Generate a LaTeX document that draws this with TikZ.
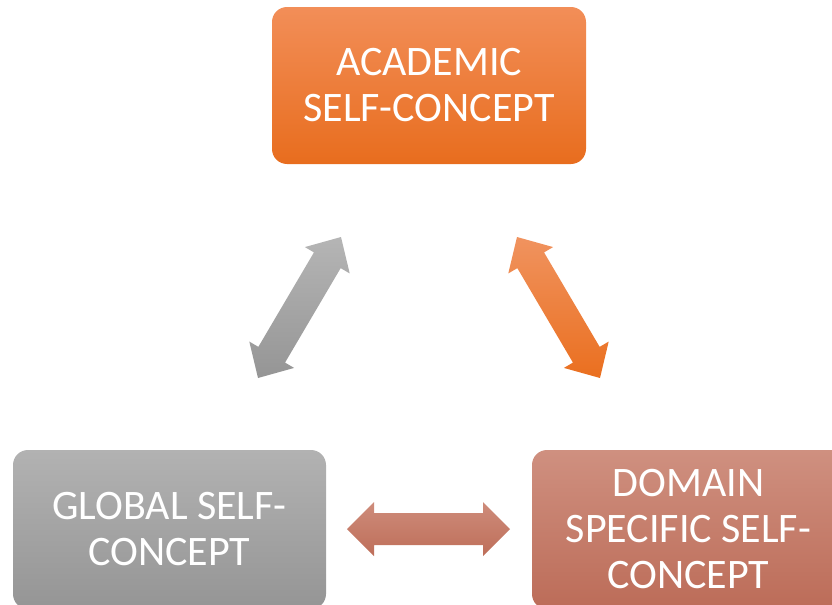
\documentclass[tikz,border=0pt]{standalone}
\usepackage{fontspec}
\setmainfont{Carlito}
\usetikzlibrary{calc}
\definecolor{acadtop}{HTML}{F28E58}
\definecolor{acadbot}{HTML}{E86D1E}
\definecolor{globtop}{HTML}{B2B2B2}
\definecolor{globbot}{HTML}{959595}
\definecolor{domtop}{HTML}{CF9080}
\definecolor{dombot}{HTML}{BC6C58}
\definecolor{harrtop}{HTML}{CE8C7B}
\definecolor{harrbot}{HTML}{BE6E59}
\definecolor{oarrtop}{HTML}{F0935F}
\definecolor{oarrbot}{HTML}{EA6F1F}
\definecolor{garrtop}{HTML}{B5B5B5}
\definecolor{garrbot}{HTML}{959595}
% #1,#2 tips; #3 head length; #4 head half width; #5 shaft half width; #6 top colour; #7 bottom colour
\newcommand{\myblockarrow}[7]{%
  \coordinate (bp1) at ($(#1)!#3!(#2)$);
  \coordinate (bp2) at ($(#2)!#3!(#1)$);
  \shade[top color=#6,bottom color=#7]
    (#1) -- ($(bp1)!#4!90:(#2)$) -- ($(bp1)!#5!90:(#2)$)
    -- ($(bp2)!#5!-90:(#1)$) -- ($(bp2)!#4!-90:(#1)$) -- (#2)
    -- ($(bp2)!#4!90:(#1)$) -- ($(bp2)!#5!90:(#1)$)
    -- ($(bp1)!#5!-90:(#2)$) -- ($(bp1)!#4!-90:(#2)$) -- cycle;
}
\tikzset{
  box/.style={rounded corners=7.5pt, inner sep=0pt, text=white,
    font=\fontsize{21}{23}\selectfont, align=center},
}
\begin{document}
\begin{tikzpicture}[x=0.5pt,y=-0.5pt]
\useasboundingbox (0,0) rectangle (832,605);
\clip (0,0) rectangle (832,605);
\node[box, top color=acadtop, bottom color=acadbot,
      minimum width=157pt, minimum height=78.5pt] (acad) at (429,85.5)
      {ACADEMIC\\SELF-CONCEPT};
\node[box, top color=globtop, bottom color=globbot,
      minimum width=156.5pt, minimum height=79.5pt] (glob) at (169.5,529.5)
      {GLOBAL SELF-\\CONCEPT};
\node[box, top color=domtop, bottom color=dombot,
      minimum width=156.5pt, minimum height=79.5pt] (dom) at (688.5,529.5)
      {DOMAIN\\SPECIFIC SELF-\\CONCEPT};
\coordinate (ga) at (258,378);
\coordinate (gb) at (341,237);
\coordinate (oa) at (517,237);
\coordinate (ob) at (600,378);
\coordinate (ha) at (347,529);
\coordinate (hb) at (510,529);
\myblockarrow{ga}{gb}{13.5pt}{13pt}{7.75pt}{garrtop}{garrbot}
\myblockarrow{oa}{ob}{13.5pt}{13pt}{7.75pt}{oarrtop}{oarrbot}
\myblockarrow{ha}{hb}{13.5pt}{13.5pt}{8pt}{harrtop}{harrbot}
\end{tikzpicture}
\end{document}
